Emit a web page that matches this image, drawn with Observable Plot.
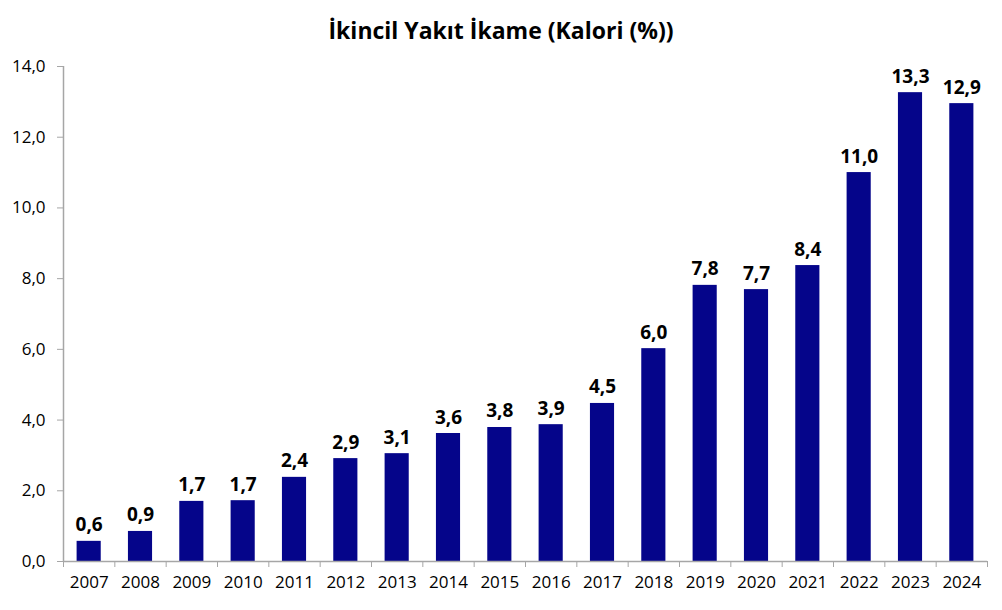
<!DOCTYPE html>
<html>
<head>
<meta charset="utf-8">
<script src="https://cdn.jsdelivr.net/npm/d3@7"></script>
<script src="https://cdn.jsdelivr.net/npm/@observablehq/plot@0.6"></script>
<style>
  body { margin: 0; background: #fff; font-family: "Open Sans", sans-serif; }
  #title { height: 50px; line-height: 60px; text-align: center; font-weight: 700; font-size: 23px; color: #000; }
</style>
</head>
<body>
<div id="title">İkincil Yakıt İkame (Kalori (%))</div>
<div id="chart"></div>
<script>
const years = [2007, 2008, 2009, 2010, 2011, 2012, 2013, 2014, 2015, 2016, 2017, 2018, 2019, 2020, 2021, 2022, 2023, 2024];
const values = [0.57, 0.85, 1.70, 1.72, 2.38, 2.91, 3.05, 3.62, 3.79, 3.87, 4.47, 6.02, 7.81, 7.69, 8.37, 11.0, 13.26, 12.95];
const labels = ["0,6", "0,9", "1,7", "1,7", "2,4", "2,9", "3,1", "3,6", "3,8", "3,9", "4,5", "6,0", "7,8", "7,7", "8,4", "11,0", "13,3", "12,9"];
const yTicks = [0, 2, 4, 6, 8, 10, 12, 14];

const data = years.map((y, i) => ({year: y, value: values[i], label: labels[i]}));
const half = 0.235;
const boundaries = d3.range(years[0] - 0.5, years[years.length - 1] + 1, 1);
const fmt = d => d.toFixed(1).replace(".", ",");
const axisColor = "#a6a6a6";

const chart = Plot.plot({
  width: 1002,
  height: 560,
  marginLeft: 63,
  marginRight: 15,
  marginTop: 16,
  marginBottom: 49,
  style: {fontFamily: "'Open Sans', sans-serif", fontSize: "17px", color: "#000", background: "#fff"},
  x: {type: "linear", domain: [years[0] - 0.5, years[years.length - 1] + 0.5], label: null},
  y: {domain: [0, 14], label: null},
  marks: [
    Plot.rectY(data, {x1: d => d.year - half, x2: d => d.year + half, y: "value", fill: "#05058a"}),
    Plot.text(data, {x: "year", y: "value", text: "label", dy: -10, lineAnchor: "bottom", fontWeight: "bold", fontSize: 19, fill: "#000"}),
    Plot.ruleY([0], {x1: years[0] - 0.5, x2: years[years.length - 1] + 0.5, stroke: axisColor, strokeWidth: 1.5}),
    Plot.ruleX([years[0] - 0.5], {y1: 0, y2: 14, stroke: axisColor, strokeWidth: 1.5}),
    Plot.axisY({ticks: yTicks, tickFormat: fmt, tickSize: 6, tickPadding: 12, stroke: axisColor, fill: "#000", fontSize: 17, label: null}),
    Plot.axisX({ticks: boundaries, tickFormat: () => "", tickSize: 6, stroke: axisColor, label: null}),
    Plot.axisX({ticks: years, tickFormat: d => String(d), tickSize: 0, tickPadding: 14, fill: "#000", fontSize: 17, label: null})
  ]
});
document.getElementById("chart").appendChild(chart);
</script>
</body>
</html>
